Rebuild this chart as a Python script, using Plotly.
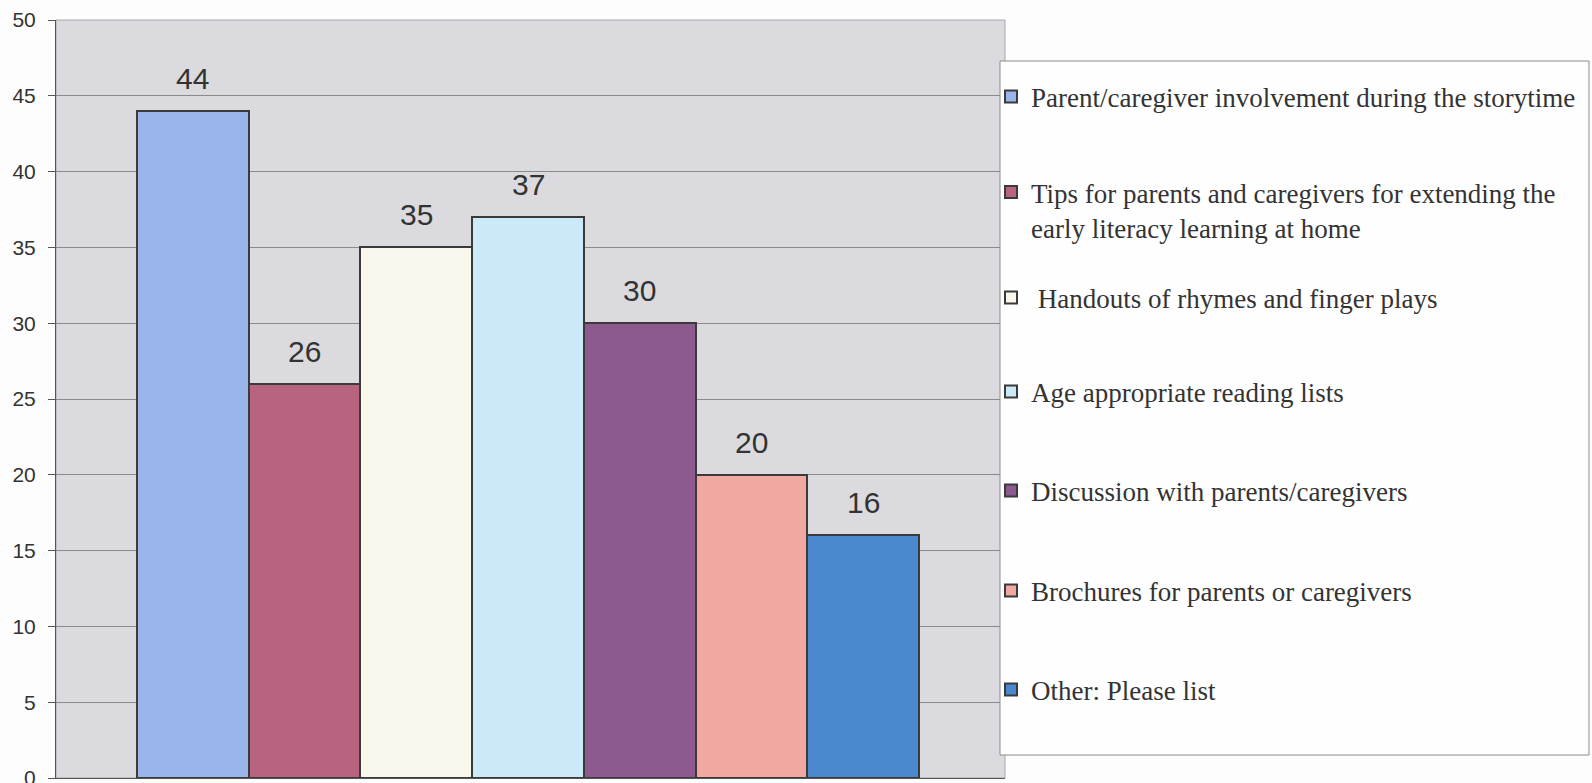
import plotly.graph_objects as go

# ---- data ----
series_names = [
    "Parent/caregiver involvement during the storytime",
    "Tips for parents and caregivers for extending the<br>early literacy learning at home",
    "\u00a0Handouts of rhymes and finger plays",
    "Age appropriate reading lists",
    "Discussion with parents/caregivers",
    "Brochures for parents or caregivers",
    "Other: Please list",
]
series_values = [44, 26, 35, 37, 30, 20, 16]
series_colors = ["#9AB5EA", "#B8637F", "#FAF8EC", "#CBE9F9", "#8D5A8F", "#F1A8A0", "#4A88D0"]
y_ticks = [0, 5, 10, 15, 20, 25, 30, 35, 40, 45, 50]

# ---- layout constants (pixels) ----
W, H = 1592, 783
ML, MR, MT, MB = 56, 587, 20, 5
plot_w = W - ML - MR
plot_h = H - MT - MB
LEGEND_LEFT_PX = 991
LEGEND_ROW_CENTER_PX = [97, 210, 298, 392, 491, 591, 690]


def px_x(p):
    return (p - ML) / plot_w


def px_y(p):
    return (H - MB - p) / plot_h


fig = go.Figure()
legend_layouts = {}
for i, (name, val, col) in enumerate(zip(series_names, series_values, series_colors)):
    lg = "legend" if i == 0 else "legend%d" % (i + 1)
    fig.add_trace(go.Bar(
        x=[str(i)], y=[val], name=name,
        marker=dict(color=col, line=dict(color="#3a3a3a", width=2)),
        legend=lg,
        hoverinfo="y",
    ))
    fig.add_annotation(
        x=str(i), y=val, text=str(val), showarrow=False,
        yanchor="bottom", yshift=14,
        font=dict(family="Liberation Sans, Arial", size=30, color="#333333"),
    )
    legend_layouts[lg] = dict(
        x=px_x(LEGEND_LEFT_PX), xanchor="left",
        y=px_y(LEGEND_ROW_CENTER_PX[i]), yanchor="middle",
        bgcolor="rgba(0,0,0,0)", borderwidth=0,
        font=dict(family="Liberation Serif, Times New Roman", size=27, color="#333333"),
        valign="top",
    )

# plot frame
fig.add_shape(type="rect", xref="paper", yref="paper", x0=0, x1=1, y0=0, y1=1,
              line=dict(color="#A8A8A8", width=1), fillcolor="rgba(0,0,0,0)", layer="below")

# legend box
fig.add_shape(type="rect", xref="paper", yref="paper",
              x0=px_x(1000), x1=px_x(1589), y0=px_y(755), y1=px_y(61),
              line=dict(color="#8C8C8C", width=1), fillcolor="#FEFEFF", layer="above")

fig.update_layout(
    width=W, height=H,
    margin=dict(l=ML, r=MR, t=MT, b=MB, autoexpand=False),
    paper_bgcolor="#FDFDFE",
    plot_bgcolor="#DBDBDF",
    barmode="overlay",
    bargap=0,
    showlegend=True,
    xaxis=dict(
        type="category",
        categoryorder="array", categoryarray=[str(i) for i in range(len(series_names))],
        range=[-1.226, 7.27],
        showticklabels=False, ticks="",
        showgrid=False, zeroline=False,
        showline=True, linecolor="#555555", linewidth=1,
        fixedrange=True,
    ),
    yaxis=dict(
        range=[0, 50],
        tickvals=y_ticks,
        ticks="outside", ticklen=7, tickcolor="#555555", tickwidth=1,
        ticklabelstandoff=8,
        ticklabeloverflow="allow",
        tickfont=dict(family="Liberation Sans, Arial", size=21, color="#333333"),
        showgrid=True, gridcolor="#8A8A8A", gridwidth=1,
        zeroline=False,
        showline=True, linecolor="#555555", linewidth=1,
    ),
)
fig.update_layout(**legend_layouts)

fig.write_html(
    "out.html",
    config={"displayModeBar": False},
    post_script="document.body.style.margin='0';document.body.style.overflow='hidden';",
)
